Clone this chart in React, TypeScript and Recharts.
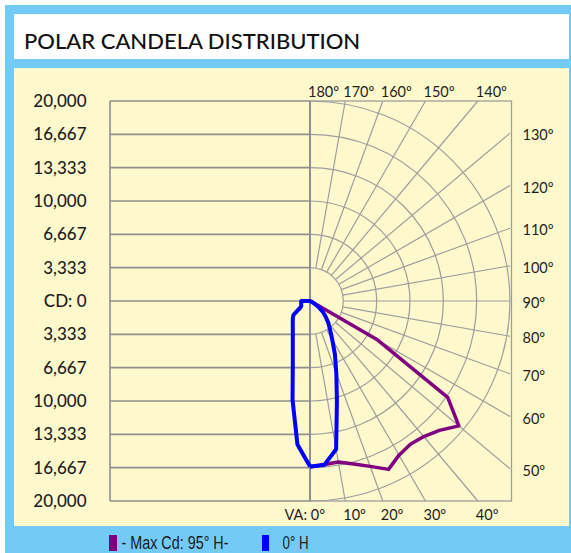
import React from 'react';
import { LineChart, Line, XAxis, YAxis } from 'recharts';

// vertical angles (deg) and candela readings per horizontal plane
const verticalAngles = [0, 5, 10, 15, 20, 25, 30, 35, 40, 45, 50, 55, 60, 65, 70, 75, 80, 85, 90];
const maxCd95H = [16600, 16420, 16340, 16870, 17600, 18580, 17800, 17500, 17700, 18300, 19430, 16810, 7820, 200, 0, 0, 0, 0, 0];
const cd0H = [16550, 16450, 15050, 10400, 7700, 5900, 4450, 3500, 2850, 2200, 1650, 1000, 400, 150, 0, 0, 0, 0, 0];
const cd180H = [16550, 14400, 10050, 6650, 5030, 4070, 3440, 3000, 2680, 2430, 2160, 1220, 1020, 970, 940, 910, 900, 880, 880];

const cdTicks = [20000, 16667, 13333, 10000, 6667, 3333, 0, -3333, -6667, -10000, -13333, -16667, -20000];
const angleTicks = [0, 10, 20, 30, 40, 50, 60, 70, 80, 90, 100, 110, 120, 130, 140, 150, 160, 170, 180];
const ringTicks = [3333, 6667, 10000, 13333, 16667, 20000];

const W = 571;
const H = 553;
const PLOT_L = 110;
const PLOT_T = 101;
const PLOT_W = 400;
const PLOT_H = 400;
const CD_MAX = 20000;
const CX = PLOT_L + PLOT_W / 2;
const CY = PLOT_T + PLOT_H / 2;
const PX = PLOT_W / 2 / CD_MAX; // px per cd

const GRID = '#8f8f8f';
const GRID_LIGHT = '#9d9d9d';
const FONT = "Lato, 'Open Sans', sans-serif";
const LEGEND_FONT = "'Liberation Sans', Arial, sans-serif";

const rad = (d: number) => (d * Math.PI) / 180;

// polar reading -> chart x/y (x right, y up, VA 0 pointing down)
const toXY = (va: number, cd: number, side: number) => ({
  x: side * cd * Math.sin(rad(va)),
  y: -cd * Math.cos(rad(va)),
});

const purpleData = verticalAngles.map((a, i) => toXY(a, maxCd95H[i], 1));
const blueData = [
  ...verticalAngles.map((a, i) => toXY(a, cd0H[i], 1)),
  ...verticalAngles.map((a, i) => toXY(a, cd180H[i], -1)).reverse(),
];

const fmt = (v: number) => (v === 0 ? 'CD: 0' : Math.abs(v).toLocaleString('en-US'));

// where a radial line at VA leaves the right-hand box
const edgePoint = (va: number) => {
  const s = Math.sin(rad(va));
  const c = Math.cos(rad(va));
  const half = PLOT_W / 2;
  const t = Math.min(s > 1e-6 ? half / s : Infinity, Math.abs(c) > 1e-6 ? half / Math.abs(c) : Infinity);
  return { x: CX + t * s, y: CY + t * c };
};

const CdTick = (props: any) => {
  const { y, payload } = props;
  return (
    <text x={86.5} y={y} dy="0.36em" textAnchor="end" fontFamily={FONT} fontWeight={500} fontSize={17} fill="#1e1e1e">
      {fmt(payload.value)}
    </text>
  );
};

const PolarGridLayer = () => {
  const inner = ringTicks[0] * PX;
  return (
    <svg width={W} height={H} style={{ position: 'absolute', left: 0, top: 0 }}>
      {/* left box with level lines */}
      {cdTicks.map((v) => (
        <line key={v} x1={PLOT_L} x2={CX} y1={CY - v * PX} y2={CY - v * PX} stroke={GRID} strokeWidth={1.6} />
      ))}
      <line x1={PLOT_L} x2={PLOT_L} y1={PLOT_T} y2={PLOT_T + PLOT_H} stroke={GRID} strokeWidth={1.6} />
      {/* right box */}
      <rect x={CX} y={PLOT_T} width={PLOT_W / 2 + 1.5} height={PLOT_H} fill="none" stroke={GRID_LIGHT} strokeWidth={1.3} />
      {ringTicks.map((v) => {
        const r = v * PX;
        return (
          <path key={v} d={`M ${CX} ${CY - r} A ${r} ${r} 0 0 1 ${CX} ${CY + r}`} fill="none" stroke={GRID_LIGHT} strokeWidth={1.2} />
        );
      })}
      {angleTicks.filter((a) => a > 0 && a < 180).map((a) => {
        const p = edgePoint(a);
        const s = Math.sin(rad(a));
        const c = Math.cos(rad(a));
        return (
          <line key={a} x1={CX + inner * s} y1={CY + inner * c} x2={p.x} y2={p.y} stroke={GRID_LIGHT} strokeWidth={1.2} />
        );
      })}
      <line x1={CX} x2={CX} y1={PLOT_T} y2={PLOT_T + PLOT_H} stroke={GRID} strokeWidth={2} />
    </svg>
  );
};

const TextLayer = () => (
  <svg width={W} height={H} style={{ position: 'absolute', left: 0, top: 0 }}>
    <text x={24} y={48.5} fontFamily={FONT} fontWeight={500} fontSize={22} fill="#111">
      POLAR CANDELA DISTRIBUTION
    </text>
    {angleTicks.map((a) => {
      const p = edgePoint(a);
      const common = { fontFamily: FONT, fontSize: 14.5, fill: '#1e1e1e', dy: '0.36em' };
      if (a > 45 && a < 135) {
        return (
          <text key={a} x={522.5} y={p.y + 2} {...common}>
            {`${a}º`}
          </text>
        );
      }
      if (a === 0) {
        return (
          <text key={a} x={p.x + 15} y={515} textAnchor="end" {...common}>
            {`VA: ${a}º`}
          </text>
        );
      }
      return (
        <text key={a} x={p.x - 2} y={a < 90 ? 515 : 91.7} {...common}>
          {`${a}º`}
        </text>
      );
    })}
    {/* legend */}
    <rect x={109} y={535} width={8} height={16} fill="#800080" />
    <text x={121.5} y={549.3} fontFamily={LEGEND_FONT} fontSize={18} fill="#1a1a1a" textLength={107} lengthAdjust="spacingAndGlyphs">
      - Max Cd: 95° H-
    </text>
    <rect x={262} y={535} width={7} height={16} fill="#0000ff" />
    <text x={282.5} y={549.3} fontFamily={LEGEND_FONT} fontSize={18} fill="#1a1a1a" textLength={26} lengthAdjust="spacingAndGlyphs">
      0° H
    </text>
  </svg>
);

export default function App() {
  return (
    <div style={{ position: 'absolute', left: 0, top: 0, width: W, height: H, background: '#ffffff', overflow: 'hidden' }}>
      <div style={{ position: 'absolute', left: 5, top: 5, width: W - 5, height: H - 5, background: '#73cbf5' }} />
      <div style={{ position: 'absolute', left: 14, top: 14, width: 555, height: 45, background: '#ffffff' }} />
      <div style={{ position: 'absolute', left: 14, top: 68, width: 555, height: 458, background: '#fef9cd' }} />
      <PolarGridLayer />
      <div style={{ position: 'absolute', left: 0, top: 0 }}>
        <LineChart width={W} height={H} margin={{ top: PLOT_T, right: W - PLOT_L - PLOT_W, bottom: H - PLOT_T - PLOT_H, left: 50 }}>
          <XAxis type="number" dataKey="x" domain={[-CD_MAX, CD_MAX]} allowDataOverflow hide />
          <YAxis
            type="number"
            domain={[-CD_MAX, CD_MAX]}
            ticks={cdTicks}
            interval={0}
            width={PLOT_L - 50}
            axisLine={false}
            tickLine={false}
            tick={<CdTick />}
            allowDataOverflow
          />
          <Line data={purpleData} dataKey="y" type="linear" stroke="#800080" strokeWidth={3.5} dot={false} isAnimationActive={false} strokeLinejoin="round" />
          <Line data={blueData} dataKey="y" type="linear" stroke="#0000ff" strokeWidth={4} dot={false} isAnimationActive={false} strokeLinejoin="round" />
        </LineChart>
      </div>
      <TextLayer />
    </div>
  );
}
